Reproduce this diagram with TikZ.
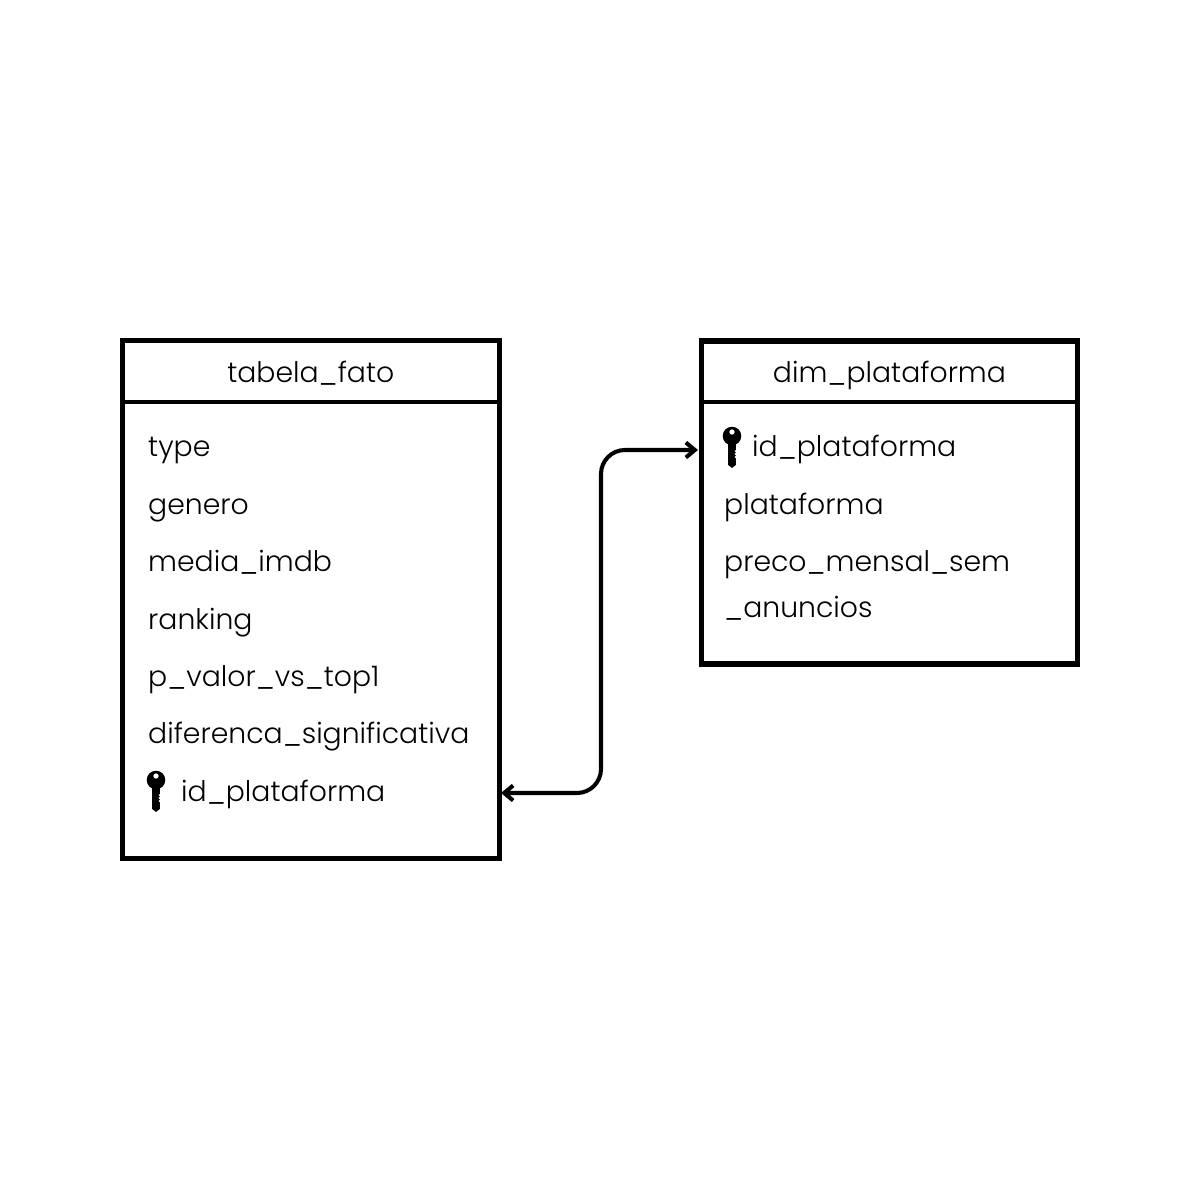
\documentclass[tikz,border=0pt]{standalone}
\usepackage{fontspec}
\setmainfont{Poppins Light}
\usetikzlibrary{arrows.meta}
\tikzstyle{tablebox}=[draw=black,line width=1.45pt,minimum width=3.765cm,inner sep=0pt]
\tikzstyle{headline}=[line width=1.15pt]
\tikzstyle{rowtext}=[anchor=base west,inner sep=0pt,font=\fontsize{8.05}{10}\selectfont]
\tikzstyle{headtext}=[anchor=base,inner sep=0pt,font=\fontsize{8.05}{10}\selectfont]
\tikzstyle{relation}=[line width=1.15pt,rounded corners=0.24cm,{Straight Barb[length=0.9mm,width=1.5mm]}-{Straight Barb[length=0.9mm,width=1.5mm]}]
\newcommand{\keyicon}[2]{
    \begin{scope}[shift={(#1,#2)},x=0.01cm,y=0.01cm]
    \fill[black,even odd rule] (0,0) circle (9.3) (0,4) circle (2.8);
    \fill[black] (-3.8,-7) -- (3.8,-7) -- (3.8,-14) -- (2.4,-15) -- (3.8,-16.5) -- (2.4,-18)
      -- (3.8,-19.5) -- (2.4,-21) -- (3.8,-22.5) -- (3.8,-29) -- (0,-32) -- (-3.8,-29) -- cycle;
    \end{scope}
}

\begin{document}
\begin{tikzpicture}
    \useasboundingbox[fill=white] (0,0) rectangle (12,12);

    \node[tablebox,minimum height=5.175cm] (fato) at (3.108,6.003) {};
    \draw[headline] (fato.west |- 0,7.98) -- (fato.east |- 0,7.98);
    \node[headtext] (fatoTitle) at (3.108,8.17) {tabela\_fato};
    \node[rowtext] (fatoType) at (1.475,7.43) {type};
    \node[rowtext] (fatoGenero) at (1.475,6.85) {genero};
    \node[rowtext] (fatoMedia) at (1.475,6.28) {media\_imdb};
    \node[rowtext] (fatoRanking) at (1.475,5.70) {ranking};
    \node[rowtext] (fatoValor) at (1.475,5.13) {p\_valor\_vs\_top1};
    \node[rowtext] (fatoDif) at (1.475,4.56) {diferenca\_significativa};
    \node[rowtext] (fatoId) at (1.805,3.98) {id\_plataforma};
    \keyicon{1.56}{4.2}

    \node[tablebox,minimum height=3.23cm] (dim) at (8.895,6.975) {};
    \draw[headline] (dim.west |- 0,7.98) -- (dim.east |- 0,7.98);
    \node[headtext] (dimTitle) at (8.895,8.17) {dim\_plataforma};
    \node[rowtext] (dimId) at (7.515,7.43) {id\_plataforma};
    \node[rowtext] (dimPlat) at (7.235,6.85) {plataforma};
    \node[rowtext] (dimPreco) at (7.235,6.28) {preco\_mensal\_sem};
    \node[rowtext] (dimAnun) at (7.235,5.82) {\_anuncios};
    \keyicon{7.32}{7.64}

    \coordinate (fatoPort) at (5.01,4.07);
    \coordinate (dimPort) at (6.98,7.5);
    \draw[relation] (fatoPort) -- (6.01,4.07) -- (6.01,7.5) -- (dimPort);
\end{tikzpicture}
\end{document}
